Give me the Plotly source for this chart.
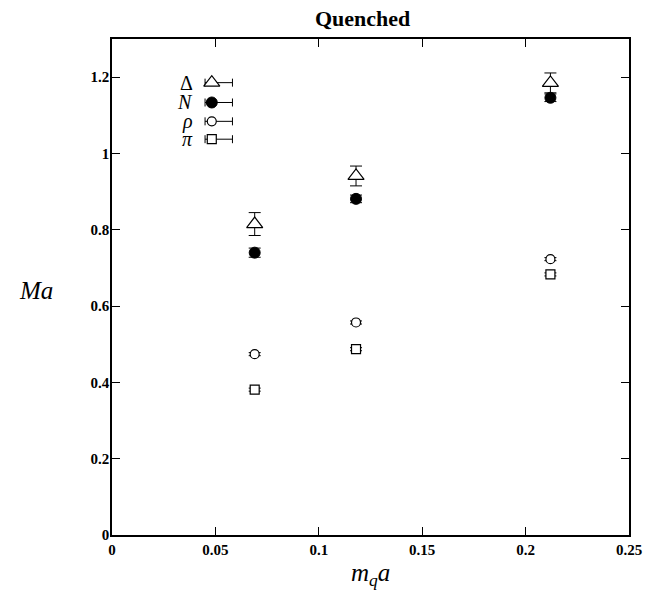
import plotly.graph_objects as go

# ---- data ----
mqa = [0.069, 0.118, 0.212]
delta_M = [0.815, 0.941, 1.185]
delta_err = [0.030, 0.026, 0.026]
nucleon_M = [0.740, 0.881, 1.146]
nucleon_err = [0.012, 0.010, 0.010]
rho_M = [0.474, 0.557, 0.723]
rho_err = [0.004, 0.004, 0.004]
pi_M = [0.381, 0.487, 0.683]
pi_err = [0.004, 0.004, 0.004]

x_ticks = [0, 0.05, 0.1, 0.15, 0.2, 0.25]
x_ticktext = ["0", "0.05", "0.1", "0.15", "0.2", "0.25"]
y_ticks = [0, 0.2, 0.4, 0.6, 0.8, 1.0, 1.2]
y_ticktext = ["0", "0.2", "0.4", "0.6", "0.8", "1", "1.2"]

labels = ["Δ", "<i>N</i>", "<i>ρ</i>", "<i>π</i>"]

SERIF = "Liberation Serif"

series = [
    (delta_M, delta_err, dict(symbol="triangle-up", size=14, color="white",
                              line=dict(color="black", width=1.2))),
    (nucleon_M, nucleon_err, dict(symbol="circle", size=11, color="black",
                                  line=dict(color="black", width=1))),
    (rho_M, rho_err, dict(symbol="circle", size=9, color="white",
                          line=dict(color="black", width=1.2))),
    (pi_M, pi_err, dict(symbol="square", size=9, color="white",
                        line=dict(color="black", width=1.2))),
]

fig = go.Figure()
for yv, ev, mk in series:
    fig.add_trace(go.Scatter(
        x=mqa, y=yv, mode="markers", marker=mk,
        error_y=dict(type="data", array=ev, color="black", thickness=1, width=6),
        showlegend=False, xaxis="x", yaxis="y"))

# ---- key (drawn on an overlay axis in [0,1] units) ----
key_x = 0.193
key_rows = [0.912, 0.872, 0.834, 0.798]
key_label_x = 0.160
for (yv, ev, mk), ky, lab in zip(series, key_rows, labels):
    fig.add_trace(go.Scatter(
        x=[key_x], y=[ky], mode="markers", marker=mk,
        error_x=dict(type="data", symmetric=False, array=[0.040], arrayminus=[0.013],
                     color="black", thickness=1, width=4),
        showlegend=False, xaxis="x2", yaxis="y2", hoverinfo="skip"))
    fig.add_annotation(x=key_label_x, y=ky, xref="x2", yref="y2", text=lab,
                       showarrow=False, xanchor="right", yanchor="middle",
                       font=dict(family=SERIF, size=20, color="black"))

axis_common = dict(showgrid=False, zeroline=False, showline=True, linecolor="black",
                   linewidth=1.5, ticks="inside", ticklen=8, tickwidth=1.2,
                   tickcolor="black", mirror="ticks",
                   tickfont=dict(family=SERIF, size=15, color="black", weight="bold"))

fig.update_layout(
    width=656, height=595,
    margin=dict(l=104, r=35, t=31, b=68),
    paper_bgcolor="white", plot_bgcolor="white",
    xaxis=dict(range=[0, 0.25], tickvals=x_ticks, ticktext=x_ticktext, **axis_common),
    yaxis=dict(range=[0, 1.3], tickvals=y_ticks, ticktext=y_ticktext,
               ticklabelstandoff=-2, **axis_common),
    xaxis2=dict(range=[0, 1], overlaying="x", visible=False, fixedrange=True),
    yaxis2=dict(range=[0, 1], overlaying="y", visible=False, fixedrange=True),
    showlegend=False,
)

fig.add_annotation(x=0.485, y=1.042, xref="paper", yref="paper",
                   xanchor="center", yanchor="middle",
                   text="<b>Quenched</b>", showarrow=False,
                   font=dict(family=SERIF, size=22, color="black"))
fig.add_annotation(x=-0.147, y=0.492, xref="paper", yref="paper",
                   xanchor="center", yanchor="middle",
                   text="<i>Ma</i>", showarrow=False,
                   font=dict(family=SERIF, size=25, color="black"))
fig.add_annotation(x=0.5, y=-0.08, xref="paper", yref="paper",
                   xanchor="center", yanchor="middle",
                   text="<i>m</i><sub><i>q</i></sub><i>a</i>", showarrow=False,
                   font=dict(family=SERIF, size=25, color="black"))

fig.write_html("out.html")
